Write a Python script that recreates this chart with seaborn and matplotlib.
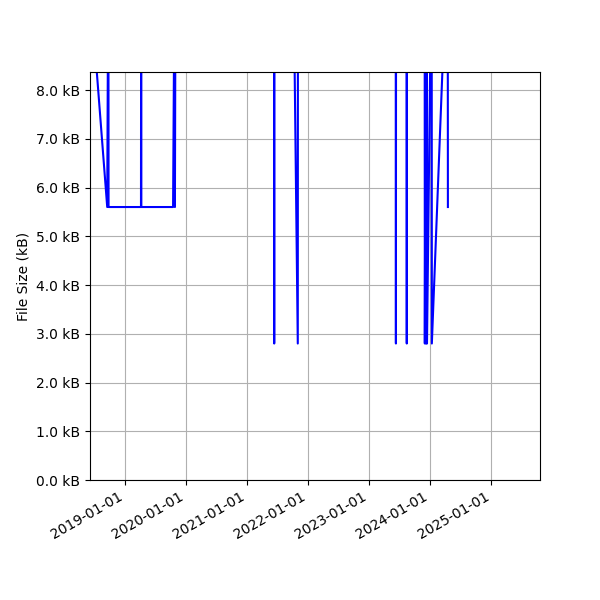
import matplotlib
matplotlib.use("Agg")
import matplotlib.pyplot as plt
import matplotlib.dates as mdates
from matplotlib.ticker import FuncFormatter
import seaborn as sns
import pandas as pd

dates = ["2018-06-10", "2018-09-17", "2018-09-24", "2018-09-25",
         "2019-04-07", "2019-04-08", "2019-04-09",
         "2019-10-16", "2019-10-26", "2019-10-27", "2019-10-31",
         "2021-06-11", "2021-06-12", "2021-06-13",
         "2021-10-03", "2021-10-31", "2021-11-01",
         "2023-06-09", "2023-06-10", "2023-06-11",
         "2023-08-13", "2023-08-14", "2023-08-15",
         "2023-11-29", "2023-11-30", "2023-12-06", "2023-12-07", "2023-12-12", "2023-12-13",
         "2024-01-10", "2024-01-11", "2024-04-15", "2024-04-16"]
sizes_kb = [10.0, 5.6, 11.2, 5.6,
            5.6, 11.2, 5.6,
            5.6, 11.2, 5.6, 11.2,
            11.2, 2.8, 11.2,
            11.2, 2.8, 11.2,
            11.2, 2.8, 11.2,
            11.2, 2.8, 11.2,
            11.2, 2.8, 11.2, 2.8, 11.2, 2.8,
            11.2, 2.8, 11.2, 5.6]

df = pd.DataFrame({"date": pd.to_datetime(dates), "size": sizes_kb})

fig = plt.figure(figsize=(6, 6), dpi=100)
ax = fig.add_axes([0.15, 0.2, 0.75, 0.68])
sns.lineplot(data=df, x="date", y="size", estimator=None, sort=False,
             color="blue", linewidth=1.5, ax=ax)
ax.set_xlim(pd.Timestamp("2018-06-06"), pd.Timestamp("2025-10-19"))
ax.set_ylim(0, 8.37)
ax.set_yticks([i * 1.0 for i in range(9)])
ax.yaxis.set_major_formatter(FuncFormatter(lambda v, p: f"{v:.1f} kB"))
ax.xaxis.set_major_locator(mdates.YearLocator())
ax.xaxis.set_major_formatter(mdates.DateFormatter("%Y-%m-%d"))
ax.grid(True, color="#b0b0b0")
ax.set_xlabel("")
ax.set_ylabel("File Size (kB)")
for lbl in ax.get_xticklabels():
    lbl.set_rotation(30)
    lbl.set_ha("right")
fig.savefig("out.png", dpi=100)
